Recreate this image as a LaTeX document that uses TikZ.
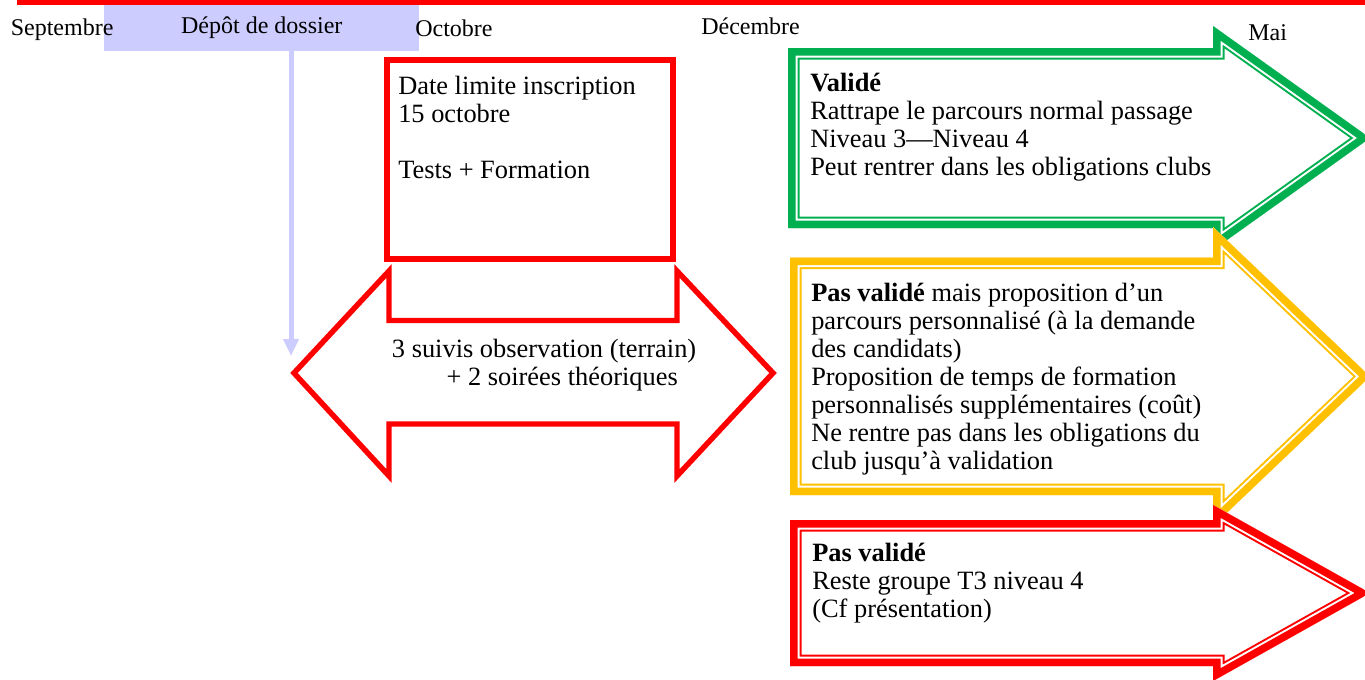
\documentclass[tikz,border=0pt]{standalone}
\usepackage{fontspec}
\setmainfont{Liberation Serif}
\usetikzlibrary{arrows.meta}
\definecolor{vgreen}{HTML}{00B050}
\definecolor{vyellow}{HTML}{FFC000}
\definecolor{vred}{HTML}{FF0000}
\definecolor{lav}{HTML}{CCCCFF}
\newcommand{\mainsz}{\fontsize{19.8}{21}\selectfont}
\newcommand{\labsz}{\fontsize{18}{21}\selectfont}
\newcommand{\bigarrow}[2]{%
  \begin{scope}
    \clip #2;
    \fill[white] #2;
    \draw[#1, line width=17.25pt] #2;
    \draw[white, line width=14.25pt] #2;
    \draw[#1, line width=11.25pt] #2;
  \end{scope}}
\begin{document}
\begin{tikzpicture}[x=0.75pt,y=-0.75pt,line join=miter,
  txt/.style={anchor=north west, inner sep=0pt, align=left, font=\mainsz},
  lab/.style={anchor=base west, inner sep=0pt, font=\labsz}]
\useasboundingbox (0,0) rectangle (1365,679);

% top band
\node[fill=lav, draw=none, inner sep=0pt, minimum width=236.25pt, minimum height=35pt] (dep) at (261.8,27.3) {};
\fill[vred] (17,-3) rectangle (1372,4.5);
\node[lab, anchor=base] (deptxt) at (261.8,33.8) {Dépôt de dossier};
\node[lab] (sep) at (10.5,35.5) {Septembre};
\node[lab] (oct) at (415,36) {Octobre};
\node[lab] (dec) at (701,34) {Décembre};
\node[lab] (mai) at (1248,40.5) {Mai};

% lavender connector
\coordinate (deptip) at (291,356);
\draw[lav, line width=3.75pt, -{Triangle[width=11.25pt,length=12.75pt]}] (dep.south -| deptip) -- (deptip);

% date box
\node[draw=vred, fill=white, line width=4.5pt, inner sep=0pt, minimum width=214.5pt, minimum height=149.25pt] (datebox) at (530,159.8) {};
\node[txt] (datetxt) at (398,74.3) {\strut Date limite inscription\\15 octobre\\[21pt]Tests + Formation};

% double arrow
\draw[vred, line width=4.1pt, fill=white] (294,373) -- (389,271) -- (389,320.5) -- (677,320.5) -- (677,271) -- (773,373) -- (677,476) -- (677,424) -- (389,424) -- (389,476) -- cycle;
\node[txt] (obstxt) at (391.7,337.6) {\strut 3 suivis observation (terrain)\\\hspace*{41pt}+ 2 soirées théoriques};

% result arrows
\bigarrow{vgreen}{(788,48) -- (1213,48) -- (1213,26) -- (1370,138) -- (1213,250) -- (1213,228) -- (788,228) -- cycle}
\node[txt] (greentxt) at (810,71.6) {\strut\textbf{Validé}\\Rattrape le parcours normal passage\\Niveau 3—Niveau 4\\Peut rentrer dans les obligations clubs};

\bigarrow{vyellow}{(790,257.5) -- (1213,257.5) -- (1213,227) -- (1370,376.5) -- (1213,526) -- (1213,495) -- (790,495) -- cycle}
\node[txt] (yellowtxt) at (811,281.6) {\strut\textbf{Pas validé} mais proposition d’un\\parcours personnalisé (à la demande\\des candidats)\\Proposition de temps de formation\\personnalisés supplémentaires (coût)\\Ne rentre pas dans les obligations du\\club jusqu’à validation};

\bigarrow{vred}{(790,520) -- (1213,520) -- (1213,505) -- (1370,593) -- (1213,681) -- (1213,666) -- (790,666) -- cycle}
\node[txt] (redtxt) at (812,541.6) {\strut\textbf{Pas validé}\\Reste groupe T3 niveau 4\\(Cf présentation)};
\end{tikzpicture}
\end{document}
